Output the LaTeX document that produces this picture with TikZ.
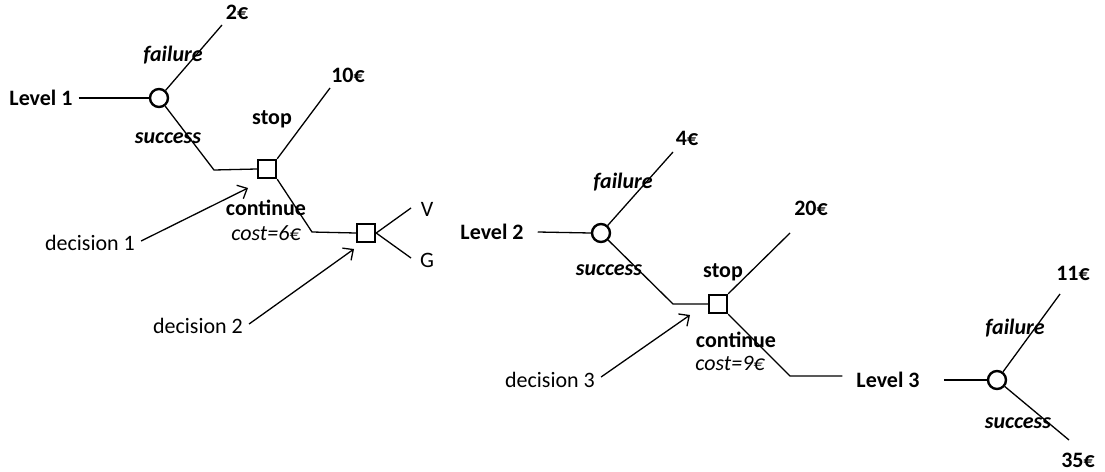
\documentclass[tikz,border=0pt]{standalone}
\usepackage{fontspec}
\setmainfont{Carlito}
\usetikzlibrary{arrows.meta}
\begin{document}
\begin{tikzpicture}[x=1pt,y=-1pt,
  txt/.style={inner sep=0pt,font=\fontsize{22}{25}\selectfont},
  btxt/.style={txt,font=\fontsize{22}{25}\selectfont\bfseries},
  itxt/.style={txt,font=\fontsize{22}{25}\selectfont\bfseries\itshape},
  ctxt/.style={txt,font=\fontsize{22}{25}\selectfont\itshape},
  chance/.style={circle,draw,line width=2.4pt,minimum size=18pt,inner sep=0pt},
  decide/.style={rectangle,draw,line width=2.4pt,minimum size=18pt,inner sep=0pt},
  branch/.style={line width=1.3pt},
  pointer/.style={line width=1.3pt,-{Straight Barb[length=8pt,width=15pt,line width=1.3pt]}}]
\useasboundingbox (0,0) rectangle (1105,471);
% ---- Level 1
\node[btxt] (L1) at (41,98) {Level 1};
\node[chance] (c1) at (159,98) {};
\coordinate (f1) at (222,25);
\node[btxt] (e2) at (237,12) {2€};
\node[itxt] (fail1) at (173,55) {failure};
\coordinate (s1b) at (214,170);
\node[itxt] (succ1) at (168,138) {success};
\node[decide] (d1) at (267,169) {};
\coordinate (st1) at (330,88);
\node[btxt] (e10) at (348,75) {10€};
\node[btxt] (stop1) at (272,119) {stop};
\coordinate (co1) at (312,232);
\node[btxt] (cont1) at (266,208) {continue};
\node[ctxt] (cost1) at (266,233) {cost=6€};
\node[decide] (d2) at (366,233) {};
\coordinate (vend) at (411,208);
\coordinate (gend) at (411,258);
\node[txt] (V) at (427,209) {V};
\node[txt] (G) at (427,260) {G};
\node[txt] (dec1) at (90,243) {decision 1};
\node[txt] (dec2) at (198,326) {decision 2};
\coordinate (a1) at (248,188);
\coordinate (a2) at (354,249);
\draw[branch] (L1.east) ++(6,0) -- (c1.west);
\draw[branch] (c1) -- (f1);
\draw[branch] (c1) -- (s1b) -- (d1.west);
\draw[branch] (d1.north east) -- (st1);
\draw[branch] (d1.south east) -- (co1) -- (d2.west);
\draw[branch] (d2.east) -- (vend);
\draw[branch] (d2.east) -- (gend);
\draw[pointer] (dec1.east) ++(6,-2) -- (a1);
\draw[pointer] (dec2.east) ++(6,-2) -- (a2);
% ---- Level 2
\node[btxt] (L2) at (492,232) {Level 2};
\node[chance] (c2) at (601,233) {};
\coordinate (f2) at (673,152);
\node[btxt] (e4) at (687,138) {4€};
\node[itxt] (fail2) at (623,182) {failure};
\coordinate (s2b) at (673,304);
\node[itxt] (succ2) at (609,270) {success};
\node[decide] (d3) at (718,304) {};
\node[btxt] (stop2) at (723,272) {stop};
\coordinate (st2) at (790,233);
\node[btxt] (e20) at (811,208) {20€};
\coordinate (co2) at (790,376);
\node[btxt] (cont2) at (736,340) {continue};
\node[ctxt] (cost2) at (730,363) {cost=9€};
\node[txt] (dec3) at (550,380) {decision 3};
\coordinate (a3) at (690,315);
\draw[branch] (L2.east) ++(14,0) -- (c2.west);
\draw[branch] (c2) -- (f2);
\draw[branch] (c2) -- (s2b) -- (d3.west);
\draw[branch] (d3.north east) -- (st2);
\draw[pointer] (dec3.east) ++(6,-3) -- (a3);
% ---- Level 3
\node[btxt] (L3) at (888,380) {Level 3};
\draw[branch] (d3.south east) -- (co2) -- ([xshift=-14pt]L3.west |- co2);
\node[chance] (c3) at (997,380) {};
\coordinate (f3) at (1060,294);
\node[btxt] (e11) at (1073,273) {11€};
\node[itxt] (fail3) at (1015,328) {failure};
\coordinate (s3e) at (1069,440);
\node[btxt] (e35) at (1078,460) {35€};
\node[itxt] (succ3) at (1018,423) {success};
\draw[branch] (L3.east) ++(24,0) -- (c3.west);
\draw[branch] (c3) -- (f3);
\draw[branch] (c3) -- (s3e);
\end{tikzpicture}
\end{document}
